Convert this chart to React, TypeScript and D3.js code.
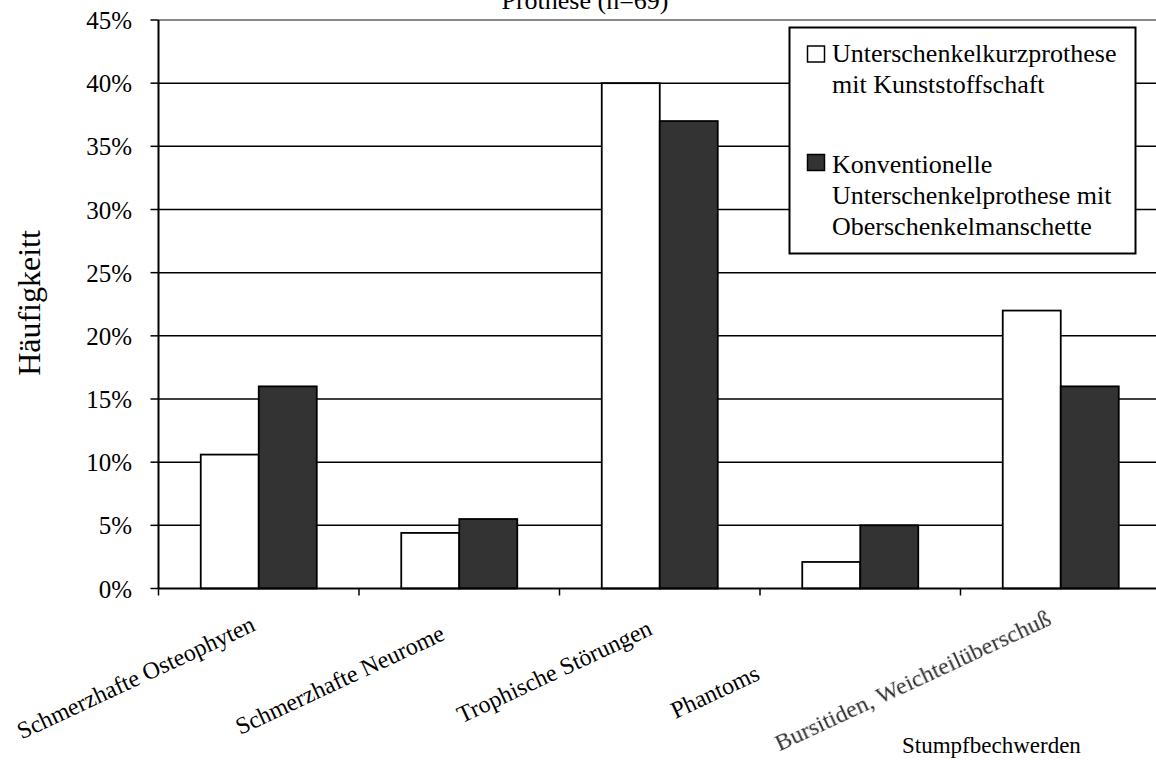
import React from "react";
import * as d3 from "d3";

// Complaint categories along the x axis
const categories = [
  "Schmerzhafte Osteophyten",
  "Schmerzhafte Neurome",
  "Trophische Störungen",
  "Phantoms",
  "Bursitiden, Weichteilüberschuß",
];

// Share of patients (%) per prosthesis type
const seriesNames = [
  "Unterschenkelkurzprothese mit Kunststoffschaft",
  "Konventionelle Unterschenkelprothese mit Oberschenkelmanschette",
];
const kurzprothese = [10.6, 4.4, 40, 2.1, 22];
const konventionell = [16, 5.5, 37, 5, 16];

const yTicks = [0, 5, 10, 15, 20, 25, 30, 35, 40, 45];

const legendLines = [
  ["Unterschenkelkurzprothese", "mit Kunststoffschaft"],
  ["Konventionelle", "Unterschenkelprothese mit", "Oberschenkelmanschette"],
];

const chartTitle = "Prothese (n=69)";
const yTitle = "Häufigkeitt";
const xNote = "Stumpfbechwerden";

// Layout
const W = 1156;
const H = 760;
const left = 158.5;
const top = 20;
const bottom = 588.5;
const catStep = 200.5;
const fills = ["#ffffff", "#333333"];
const FONT = "'Liberation Serif', 'Times New Roman', serif";
// per-label placement of the rotated category names (end of baseline)
const labelNudge = [
  [-2, -3],
  [-13, 6],
  [-6, 1],
  [-99, 46],
  [-8, -9],
];

export default function App() {
  const x0 = d3
    .scaleBand<string>()
    .domain(categories)
    .range([left, left + catStep * categories.length])
    .padding(0);
  const x1 = d3
    .scaleBand<string>()
    .domain(seriesNames)
    .range([0, x0.bandwidth()])
    .paddingInner(0)
    .paddingOuter(0.7284);
  const y = d3.scaleLinear().domain([0, 45]).range([bottom, top]);

  const values = [kurzprothese, konventionell];

  return (
    <svg
      width={W}
      height={H}
      style={{ position: "absolute", left: 0, top: 0, background: "#fff" }}
      fontFamily={FONT}
    >
      <defs>
        <filter id="soft" x="-5%" y="-20%" width="110%" height="140%">
          <feGaussianBlur stdDeviation="0.75" />
        </filter>
      </defs>
      <rect x={0} y={0} width={W} height={H} fill="#fff" />

      {/* title, partly above the canvas */}
      <text x={585} y={9} fontSize={26} textAnchor="middle" fill="#000">
        {chartTitle}
      </text>

      {/* gridlines */}
      {yTicks.slice(1, -1).map((t) => (
        <line
          key={"g" + t}
          x1={left}
          x2={W}
          y1={y(t)}
          y2={y(t)}
          stroke="#000"
          strokeWidth={1.5}
        />
      ))}
      {/* upper frame line */}
      <line x1={left} x2={W} y1={y(45)} y2={y(45)} stroke="#888" strokeWidth={2} />

      {/* bars */}
      {categories.map((c, i) => (
        <g key={c}>
          {seriesNames.map((s, j) => (
            <rect
              key={s}
              x={(x0(c) as number) + (x1(s) as number)}
              y={y(values[j][i])}
              width={x1.bandwidth()}
              height={y(0) - y(values[j][i])}
              fill={fills[j]}
              stroke="#000"
              strokeWidth={1.8}
            />
          ))}
        </g>
      ))}

      {/* y axis */}
      <line x1={left} x2={left} y1={y(45)} y2={y(0)} stroke="#000" strokeWidth={2} />
      {yTicks.map((t) => (
        <g key={"t" + t}>
          <line x1={left - 8} x2={left} y1={y(t)} y2={y(t)} stroke="#000" strokeWidth={1.5} />
          <text
            x={132}
            y={y(t)}
            dy="0.36em"
            fontSize={25}
            textAnchor="end"
            fill="#000"
          >
            {t + "%"}
          </text>
        </g>
      ))}

      {/* x axis */}
      <line x1={left} x2={W} y1={y(0)} y2={y(0)} stroke="#000" strokeWidth={2} />
      {categories.map((c) => (
        <line
          key={"xt" + c}
          x1={x0(c) as number}
          x2={x0(c) as number}
          y1={y(0)}
          y2={y(0) + 7}
          stroke="#000"
          strokeWidth={1.5}
        />
      ))}

      {/* category names */}
      {categories.map((c, i) => {
        const cx = (x0(c) as number) + x0.bandwidth() / 2 + labelNudge[i][0];
        const cy = 633 + labelNudge[i][1];
        const last = i === categories.length - 1;
        return (
          <text
            key={"l" + c}
            transform={`translate(${cx},${cy}) rotate(-25)`}
            textAnchor="end"
            fontSize={24}
            fill={last ? "#2e2e2e" : "#000"}
            filter={last ? "url(#soft)" : undefined}
          >
            {c}
          </text>
        );
      })}
      <text x={902} y={753} fontSize={23} fill="#000">
        {xNote}
      </text>

      {/* y axis title */}
      <text
        transform={`translate(40,303) rotate(-90)`}
        textAnchor="middle"
        fontSize={32}
        fill="#000"
      >
        {yTitle}
      </text>

      {/* legend */}
      <rect x={789.5} y={27.5} width={346} height={226} fill="#fff" stroke="#000" strokeWidth={2} />
      {legendLines.map((lines, j) => {
        const swatchTop = j === 0 ? 46 : 154.5;
        const base = j === 0 ? 62 : 172.5;
        return (
          <g key={"lg" + j}>
            <rect
              x={807.5}
              y={swatchTop}
              width={17}
              height={16}
              fill={fills[j]}
              stroke="#000"
              strokeWidth={1.5}
            />
            {lines.map((ln, k) => (
              <text key={k} x={832} y={base + k * 31} fontSize={26} fill="#000">
                {ln}
              </text>
            ))}
          </g>
        );
      })}
    </svg>
  );
}
